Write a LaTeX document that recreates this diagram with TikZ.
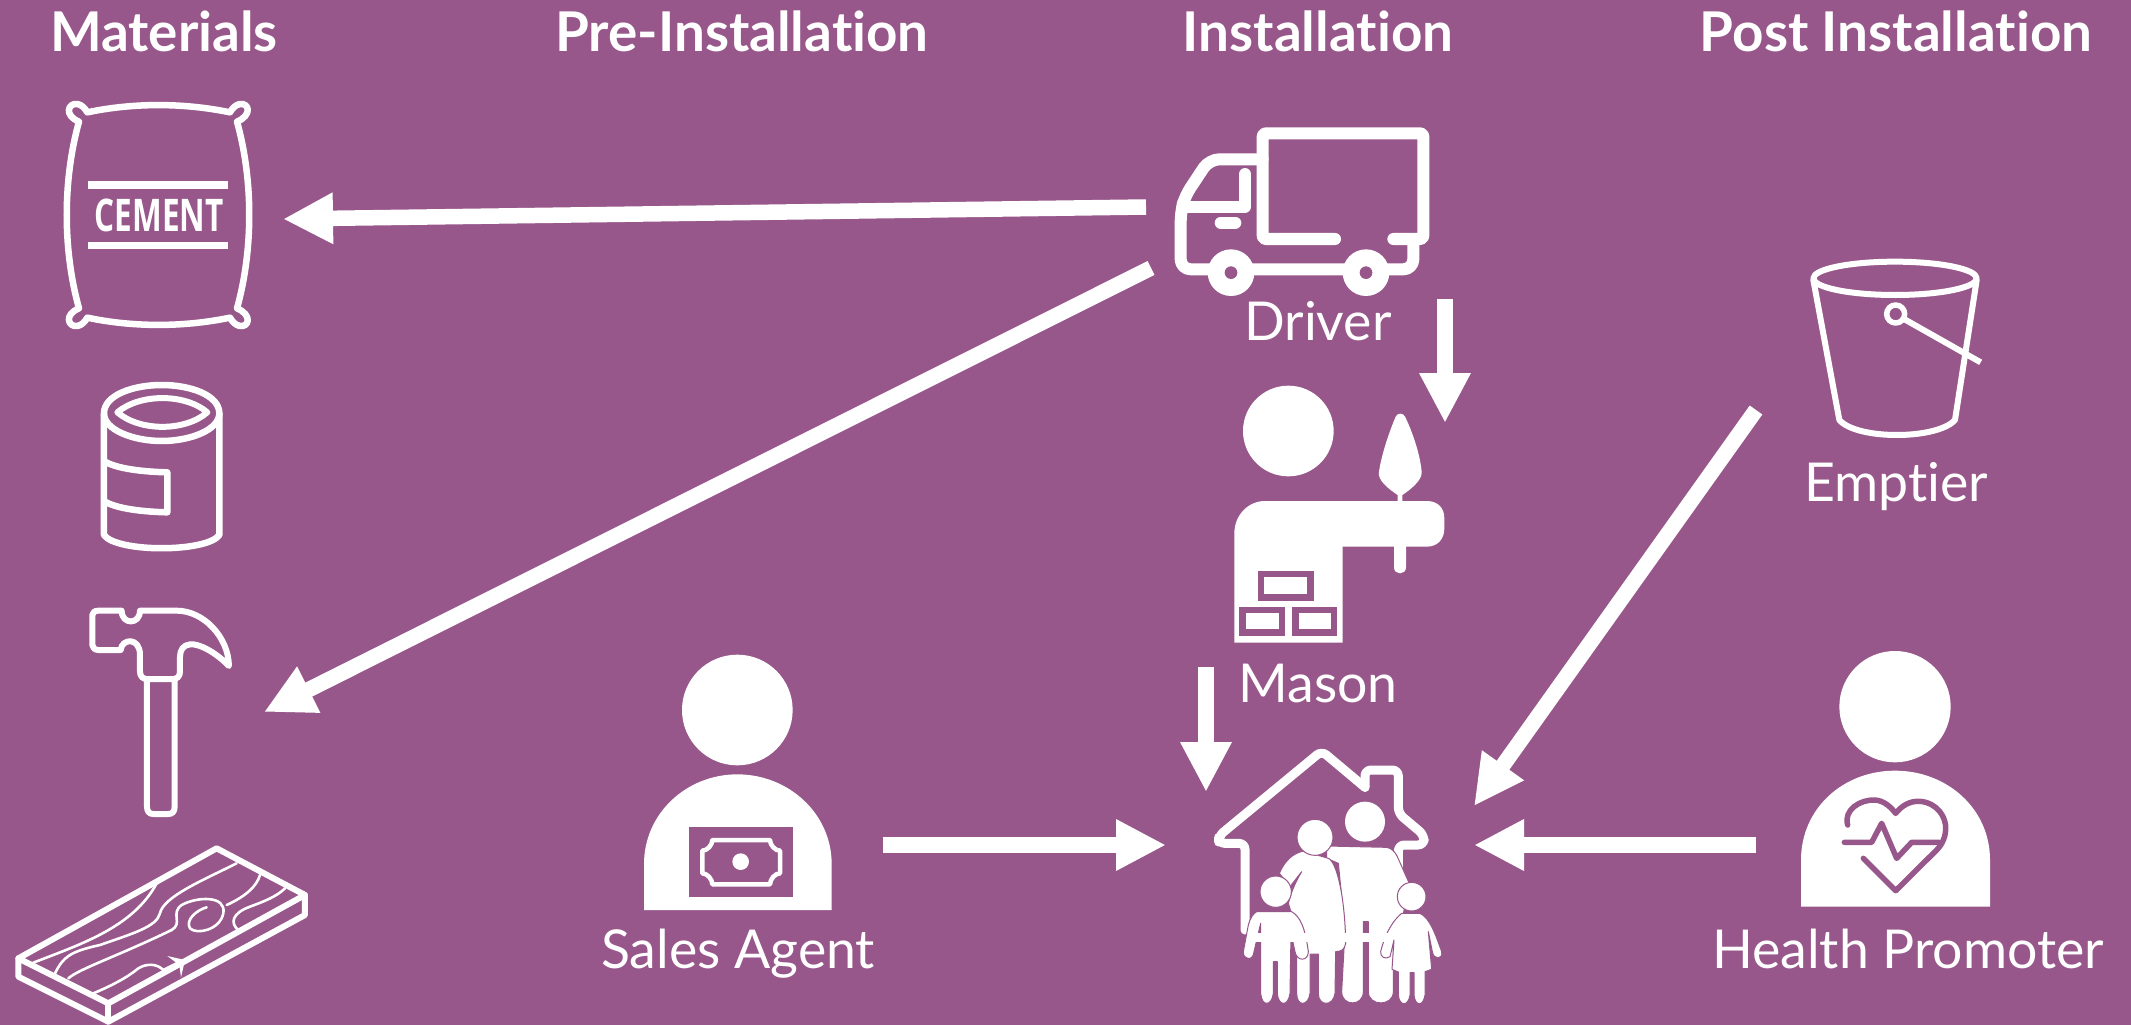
\documentclass[tikz,border=0pt]{standalone}
\usepackage{fontspec}
\setmainfont[Ligatures=NoCommon]{Lato}
\newfontfamily\cementfont{Open Sans}
\usetikzlibrary{arrows.meta}
\definecolor{bgp}{HTML}{98578A}
\tikzset{
  head/.style={font=\fontsize{54.8}{60}\selectfont\bfseries,text=white,inner sep=0pt,anchor=base},
  lab/.style={font=\fontsize{53.6}{60}\selectfont,text=white,inner sep=0pt,anchor=base},
  flow/.style={draw=white,line width=15.5pt,-{Triangle[length=50pt,width=48pt]},fill=white},
  ic/.style={draw=white,line width=#1,line join=round,line cap=round},
  ic/.default=6pt,
  cut/.style={draw=bgp,line width=#1,line join=round,line cap=round},
  cut/.default=6pt,
  fam/.style={fill=white,draw=bgp,line width=1pt,line join=round},
  zoomed/.style={shift={#1},x=.33333pt,y=-.33333pt}
}
\begin{document}
\begin{tikzpicture}[x=1pt,y=-1pt]
\useasboundingbox (0,0) rectangle (2131,1025);
\fill[bgp] (0,0) rectangle (2131,1025);

% headings and labels
\node[head] (hMat) at (164,52) {Materials};
\node[head] (hPre) at (742,52) {Pre-Installation};
\node[head] (hIns) at (1318,52) {Installation};
\node[head] (hPos) at (1896,52) {Post Installation};
\node[lab] (lDri) at (1318,340) {Driver};
\node[lab] (lEmp) at (1896,501) {Emptier};
\node[lab] (lMas) at (1318,702) {Mason};
\node[lab] (lSal) at (738,968) {Sales Agent};
\node[lab] (lHea) at (1908,968) {Health Promoter};

% cement bag
\begin{scope}[zoomed={(0,80)}]
\draw[ic=6.5pt] (262,97) .. controls (400,68) and (550,68) .. (690,97)
  .. controls (697,85) and (707,74) .. (720,72) .. controls (747,68) and (758,105) .. (711,125)
  .. controls (760,300) and (760,510) .. (711,685)
  .. controls (758,705) and (747,742) .. (720,738) .. controls (707,736) and (697,725) .. (690,713)
  .. controls (550,742) and (400,742) .. (262,713)
  .. controls (255,725) and (245,736) .. (232,738) .. controls (205,742) and (190,705) .. (237,685)
  .. controls (188,510) and (188,300) .. (237,125)
  .. controls (190,105) and (205,68) .. (232,72) .. controls (245,74) and (255,85) .. (262,97) -- cycle;
\fill[white] (265,304) rectangle (684,326);
\fill[white] (265,486) rectangle (684,508);
\node[font=\fontsize{45}{50}\cementfont\selectfont\bfseries,text=white,inner sep=0pt] (cement) at (478,407) {\scalebox{.7}[1]{CEMENT}};
\end{scope}

% can
\begin{scope}[zoomed={(0,80)}]
\draw[ic=6.5pt] (312,1000) .. controls (312,945) and (400,915) .. (485,915)
  .. controls (570,915) and (658,945) .. (658,1000)
  .. controls (658,1050) and (570,1083) .. (485,1083)
  .. controls (400,1083) and (312,1050) .. (312,1000) -- cycle;
\draw[ic=6pt] (352,997) .. controls (420,940) and (555,940) .. (622,997)
  .. controls (555,1055) and (420,1055) .. (352,997) -- cycle;
\draw[ic=6.5pt] (312,1000) -- (312,1365) .. controls (350,1418) and (620,1418) .. (658,1365) -- (658,1000);
\draw[ic=6.5pt] (315,1145) .. controls (350,1165) and (420,1175) .. (502,1177) -- (502,1297)
  .. controls (420,1295) and (350,1285) .. (315,1265);
\end{scope}

% hammer and plank
\begin{scope}[zoomed={(0,580)}]
\draw[ic=6pt] (365,92) .. controls (365,135) and (420,135) .. (420,92) -- (530,92)
  .. controls (610,92) and (685,170) .. (687,258)
  .. controls (650,220) and (600,190) .. (570,193) .. controls (550,195) and (540,210) .. (540,230)
  -- (540,275) .. controls (540,290) and (530,297) .. (520,297) -- (440,297)
  .. controls (430,297) and (420,290) .. (420,275) -- (420,225)
  .. controls (420,170) and (365,175) .. (362,210) -- (295,210)
  .. controls (285,210) and (277,203) .. (277,195) -- (277,105)
  .. controls (277,97) and (285,92) .. (295,92) -- cycle;
\draw[ic=6pt] (441,297) -- (441,680) .. controls (441,695) and (448,702) .. (460,702)
  -- (505,702) .. controls (517,702) and (524,695) .. (524,680) -- (524,297);
\draw[ic=6pt] (650,805) -- (915,945) -- (325,1270) -- (55,1135) -- cycle;
\draw[ic=6pt] (55,1135) -- (55,1190) -- (325,1325) -- (915,1005) -- (915,945);
\draw[ic=6pt] (325,1270) -- (325,1325);
\begin{scope}[ic=2.6pt]
\draw (100,1148) .. controls (250,1090) and (400,1040) .. (470,910);
\draw (165,1180) .. controls (190,1130) and (210,1115) .. (300,1095)
  .. controls (400,1060) and (470,1040) .. (480,1000)
  .. controls (490,950) and (610,900) .. (710,850);
\draw (205,1195) .. controls (240,1165) and (350,1130) .. (515,1050)
  .. controls (550,1030) and (510,1000) .. (545,975)
  .. controls (590,950) and (680,945) .. (670,1000)
  .. controls (660,1050) and (590,1065) .. (570,1045)
  .. controls (555,1020) and (590,990) .. (620,982);
\draw (680,975) .. controls (735,950) and (770,920) .. (780,885);
\draw (715,1050) .. controls (690,1030) and (695,1000) .. (750,980) .. controls (790,965) and (830,950) .. (855,925);
\draw (280,1240) .. controls (340,1215) and (385,1190) .. (415,1165)
  .. controls (440,1150) and (470,1150) .. (490,1170) -- (540,1145);
\fill[white] (502,1128) -- (555,1140) -- (543,1192) -- (538,1155) -- cycle;
\end{scope}
\end{scope}

% truck
\begin{scope}[zoomed={(1150,110)}]
\draw[ic=12pt,rounded corners=3pt] (555,387) -- (338,387) -- (338,70) -- (820,70) -- (820,387) -- (730,387);
\draw[ic=12pt,rounded corners=10pt] (338,148) -- (178,148) -- (105,258) -- (92,305) -- (92,478) -- (790,478) -- (790,387);
\draw[ic=12pt] (285,192) -- (285,290) -- (100,290);
\draw[ic=12pt] (212,338) -- (256,338);
\fill[white] (243,488) circle[radius=70];
\fill[white] (648,488) circle[radius=70];
\fill[bgp] (243,488) circle[radius=19];
\fill[bgp] (648,488) circle[radius=19];
\end{scope}

% mason
\begin{scope}[zoomed={(1200,370)}]
\fill[white] (265,183) circle[radius=136];
\fill[white] (103,818) -- (428,818) -- (428,530) -- (680,530)
  .. controls (715,530) and (733,505) .. (733,475) -- (733,445)
  .. controls (733,415) and (715,393) .. (680,393) -- (195,393)
  .. controls (145,393) and (103,435) .. (103,490) -- cycle;
\fill[bgp] (175,602) rectangle (342,692);
\fill[white] (193,622) rectangle (322,672);
\fill[bgp] (118,710) rectangle (255,798);
\fill[white] (138,728) rectangle (236,778);
\fill[bgp] (275,710) rectangle (412,798);
\fill[white] (296,728) rectangle (393,778);
\fill[white] (593,395) -- (593,375) .. controls (570,360) and (530,330) .. (537,305)
  .. controls (545,250) and (570,180) .. (587,140) .. controls (592,128) and (610,128) .. (615,140)
  .. controls (635,180) and (660,250) .. (665,305)
  .. controls (668,330) and (630,360) .. (607,375) -- (607,395) -- cycle;
\fill[white] (582,528) -- (582,592) .. controls (582,616) and (618,616) .. (618,592) -- (618,528) -- cycle;
\end{scope}

% house and family
\begin{scope}[zoomed={(1190,730)}]
\draw[ic=9pt,rounded corners=6pt] (165,600) -- (165,340) -- (86,340) -- (86,318) -- (395,63) -- (525,172);
\draw[ic=9pt,rounded corners=6pt] (525,172) -- (525,120) -- (625,120) -- (625,250) -- (702,315) -- (702,345) -- (625,345) -- (625,450);
% father
\draw[fam] (410,348) -- (590,352) .. controls (605,355) and (615,365) .. (622,380) -- (660,465)
  -- (640,550) -- (610,600) -- (610,785) .. controls (610,830) and (535,830) .. (535,785)
  -- (535,575) -- (520,575) -- (520,785) .. controls (520,830) and (455,830) .. (455,785)
  -- (465,600) -- (445,400) -- (410,385) -- cycle;
\fill[white] (525,275) circle[radius=60];
% mother
\draw[fam] (268,430) .. controls (285,390) and (310,370) .. (340,363) -- (415,385)
  .. controls (440,395) and (465,500) .. (467,640) .. controls (465,660) and (450,665) .. (437,665)
  -- (435,790) .. controls (430,830) and (385,830) .. (385,790) -- (385,672) -- (360,672) -- (360,790)
  .. controls (355,830) and (320,830) .. (320,790) -- (320,600) -- (295,520)
  .. controls (305,480) and (320,450) .. (335,425) -- (300,470) -- cycle;
\draw[fam] (375,322) circle[radius=54];
% left child
\draw[fam] (200,545) -- (305,545) .. controls (330,560) and (345,590) .. (355,665)
  .. controls (355,695) and (320,695) .. (315,665) -- (303,610) -- (300,790)
  .. controls (295,830) and (265,830) .. (262,790) -- (262,695) -- (250,695) -- (250,790)
  .. controls (245,830) and (215,830) .. (212,790) -- (212,580) -- (192,665)
  .. controls (190,695) and (158,690) .. (160,665) -- (175,585) .. controls (180,565) and (190,550) .. (200,545) -- cycle;
\draw[fam] (257,485) circle[radius=47];
% right child
\draw[fam] (635,550) -- (690,550) .. controls (720,565) and (735,610) .. (755,665)
  .. controls (760,690) and (730,690) .. (727,665) -- (715,605) -- (725,718) -- (705,725) -- (705,795)
  .. controls (700,830) and (675,830) .. (672,795) -- (672,728) -- (660,728) -- (660,795)
  .. controls (655,830) and (628,830) .. (625,795) -- (625,726) -- (606,718) -- (612,630) -- (600,680)
  .. controls (585,690) and (570,680) .. (572,665) .. controls (585,610) and (610,570) .. (635,550) -- cycle;
\draw[fam] (665,500) circle[radius=43];
% floor band
\fill[white] (180,608) rectangle (600,636);
\end{scope}

% bucket
\begin{scope}[zoomed={(1780,240)}]
\draw[ic=6pt] (345,115) ellipse[x radius=245,y radius=50];
\draw[ic=6pt] (100,120) -- (178,540) .. controls (230,600) and (470,600) .. (525,540) -- (590,120);
\draw[ic=5.5pt] (347,222) circle[radius=27];
\draw[ic=6pt,line cap=butt] (372,237) -- (602,367);
\end{scope}

% health promoter
\begin{scope}[zoomed={(1780,640)}]
\fill[white] (345,200) circle[radius=167];
\fill[white] (63,800) -- (630,800) -- (630,660) .. controls (630,505) and (500,392) .. (345,392)
  .. controls (190,392) and (63,505) .. (63,660) -- cycle;
\draw[cut=5.5pt] (203,555) .. controls (190,510) and (240,478) .. (285,480)
  .. controls (315,482) and (335,505) .. (347,520) .. controls (365,497) and (390,482) .. (420,484)
  .. controls (470,488) and (500,530) .. (497,570) .. controls (495,600) and (480,620) .. (470,630)
  -- (347,752) -- (250,655);
\draw[cut=5.5pt] (193,607) -- (275,607) -- (305,550) -- (350,655) -- (395,607) -- (478,607);
\end{scope}

% sales agent
\begin{scope}[zoomed={(620,640)}]
\fill[white] (352,210) circle[radius=166];
\fill[white] (72,810) -- (635,810) -- (635,672) .. controls (635,520) and (505,403) .. (352,403)
  .. controls (200,403) and (72,520) .. (72,672) -- cycle;
\fill[bgp] (207,560) rectangle (518,772);
\draw[ic=4.5pt,line cap=butt,draw=white] (277,600) -- (450,600) .. controls (450,615) and (465,632) .. (480,632)
  -- (480,700) .. controls (465,700) and (450,718) .. (450,733) -- (277,733)
  .. controls (277,718) and (262,700) .. (247,700) -- (247,632)
  .. controls (262,632) and (277,615) .. (277,600) -- cycle;
\fill[white] (362,665) circle[radius=25];
\end{scope}

% connectors
\coordinate (tTruckCem) at (1146,207);
\coordinate (tipCem) at (283,219);
\coordinate (tTruckHam) at (1151,268);
\coordinate (tipHam) at (264,712);
\coordinate (tDriver) at (1445,299);
\coordinate (tipMason) at (1445,423);
\coordinate (tMason) at (1206,667);
\coordinate (tipHouseTop) at (1206,792);
\coordinate (tSales) at (883,845);
\coordinate (tipHouseL) at (1166,845);
\coordinate (tHealth) at (1756,845);
\coordinate (tipHouseR) at (1474,845);
\coordinate (tEmptier) at (1756,410);
\coordinate (tipHouseE) at (1474,806);
\draw[flow] (tTruckCem) -- (tipCem);
\draw[flow] (tTruckHam) -- (tipHam);
\draw[flow] (tDriver) -- (tipMason);
\draw[flow] (tMason) -- (tipHouseTop);
\draw[flow] (tSales) -- (tipHouseL);
\draw[flow] (tHealth) -- (tipHouseR);
\draw[flow] (tEmptier) -- (tipHouseE);
\end{tikzpicture}
\end{document}
